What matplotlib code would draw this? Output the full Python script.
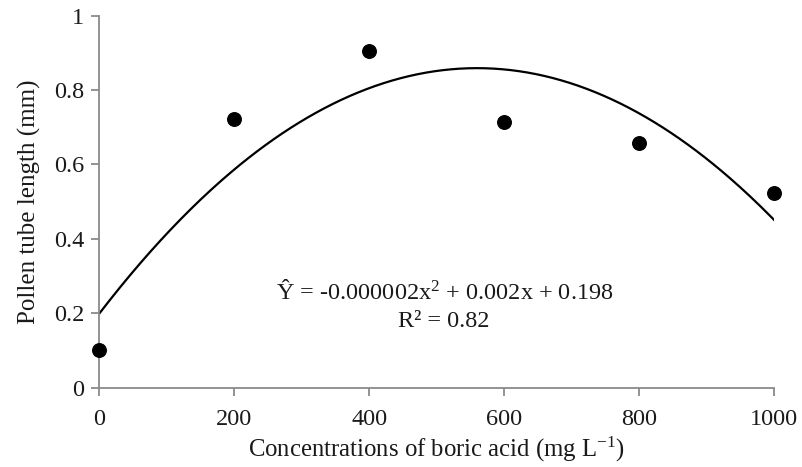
import matplotlib
matplotlib.use("Agg")
import matplotlib.pyplot as plt
import numpy as np

plt.rcParams['font.family'] = ['Liberation Serif', 'DejaVu Serif']
plt.rcParams['mathtext.fontset'] = 'custom'
plt.rcParams['mathtext.rm'] = 'Liberation Serif'
plt.rcParams['mathtext.it'] = 'Liberation Serif:italic'

concentrations = [0, 200, 400, 600, 800, 1000]
tube_length = [0.101, 0.722, 0.906, 0.715, 0.657, 0.524]

# Trend curve coefficients as drawn (a*x^2 + b*x + c)
curve_a = -2.104e-6
curve_b = 0.002355
curve_c = 0.200

x_ticks = [0, 200, 400, 600, 800, 1000]
y_ticks = [0, 0.2, 0.4, 0.6, 0.8, 1]
y_ticklabels = ['0', '0.2', '0.4', '0.6', '0.8', '1']

fig = plt.figure(figsize=(8.03, 4.67), dpi=100)
ax = fig.add_axes([0.1239, 0.1698, 0.964 - 0.1239, 0.9664 - 0.1698])

xs = np.linspace(0, 1000, 400)
ax.plot(xs, curve_a * xs**2 + curve_b * xs + curve_c, color='black', lw=1.6, zorder=2)
ax.scatter(concentrations, tube_length, s=95, color='black', zorder=3, clip_on=False)

ax.set_xlim(0, 1000)
ax.set_ylim(0, 1)
ax.set_xticks(x_ticks)
ax.set_yticks(y_ticks)
ax.set_yticklabels(y_ticklabels)

fs = 17.5
for s in ['top', 'right']:
    ax.spines[s].set_visible(False)
for s in ['left', 'bottom']:
    ax.spines[s].set_color('#8a8a8a')
    ax.spines[s].set_linewidth(1.3)
ax.tick_params(axis='both', colors='#8a8a8a', length=6, width=1.3, labelsize=fs,
               labelcolor='#1a1a1a')
ax.tick_params(axis='x', pad=9)
ax.tick_params(axis='y', pad=5)

ax.set_xlabel('Concentrations of boric acid (mg L$^{\\mathregular{-1}}$)', fontsize=17.8,
              color='#1a1a1a', labelpad=4)
ax.set_ylabel('Pollen tube length (mm)', fontsize=18, color='#1a1a1a', labelpad=9)

ax.text(512, (387.7 - 291.7) / 372, 'Ŷ = -0.000002x$^{\\mathregular{2}}$ + 0.002x + 0.198',
        ha='center', va='center', fontsize=fs, color='#1a1a1a')
ax.text(510, (387.7 - 321.7) / 372, 'R² = 0.82', ha='center', va='center',
        fontsize=fs, color='#1a1a1a')

fig.savefig('out.png', dpi=100)
